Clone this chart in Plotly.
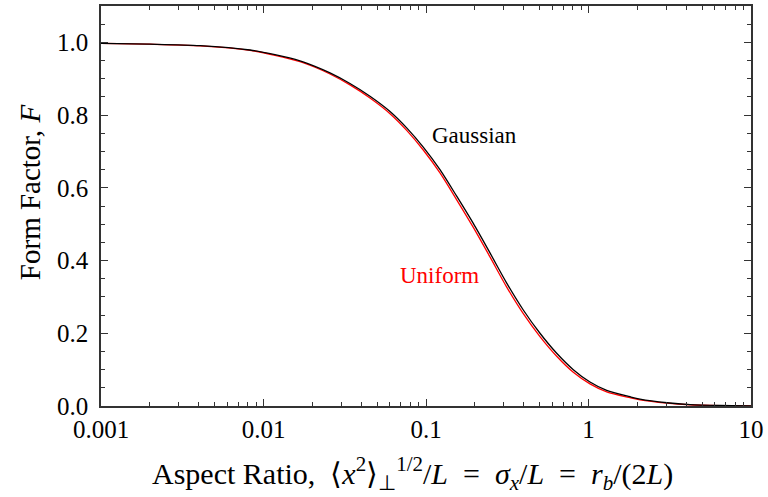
import plotly.graph_objects as go

# Aspect ratio (x) values and form factor readings
x_vals = [0.001, 0.002, 0.00407, 0.00826, 0.01177, 0.01677, 0.02074, 0.02566, 0.03405, 0.04521,
          0.06005, 0.07606, 0.0962, 0.1219, 0.1545, 0.1955, 0.2476, 0.3138, 0.3970, 0.5028,
          0.6372, 0.8063, 1.021, 1.294, 1.800, 2.075, 3.042, 4.213, 6.445, 10.0]
f_gauss = [0.997, 0.995, 0.991, 0.979, 0.966, 0.949, 0.934, 0.916, 0.887, 0.852,
           0.810, 0.765, 0.712, 0.650, 0.577, 0.502, 0.421, 0.338, 0.264, 0.200,
           0.145, 0.100, 0.066, 0.043, 0.0255, 0.019, 0.009, 0.004, 0.0015, 0.0005]
f_unif = [0.997, 0.995, 0.9905, 0.978, 0.9645, 0.947, 0.9315, 0.913, 0.883, 0.847,
          0.804, 0.758, 0.704, 0.641, 0.567, 0.491, 0.410, 0.327, 0.254, 0.191,
          0.137, 0.093, 0.061, 0.039, 0.023, 0.017, 0.008, 0.0035, 0.0013, 0.0005]

xtick_vals = [0.001, 0.01, 0.1, 1, 10]
xtick_text = ["0.001", "0.01", "0.1", "1", "10"]
x_minor = [m * 10.0 ** e for e in range(-3, 1) for m in range(2, 10)]

FONT = "Liberation Serif"

fig = go.Figure()
fig.add_trace(go.Scatter(x=x_vals, y=f_unif, mode="lines",
                         line=dict(color="red", width=1.3, shape="spline", smoothing=0.8),
                         name="Uniform"))
fig.add_trace(go.Scatter(x=x_vals, y=f_gauss, mode="lines",
                         line=dict(color="black", width=1.3, shape="spline", smoothing=0.8),
                         name="Gaussian"))

fig.add_annotation(x=-0.70, y=0.745, xref="x", yref="y", text="Gaussian", showarrow=False,
                   font=dict(family=FONT, size=23, color="black"))
fig.add_annotation(x=-0.92, y=0.36, xref="x", yref="y", text="Uniform", showarrow=False,
                   font=dict(family=FONT, size=23, color="red"))
# y-axis title placed as a rotated annotation
fig.add_annotation(x=-0.109, y=0.535, xref="paper", yref="paper", text="Form Factor, <i>F</i>",
                   textangle=-90, showarrow=False, xanchor="center", yanchor="middle",
                   font=dict(family=FONT, size=29, color="black"))

sp = "\u2002"
xtitle = ("Aspect Ratio," + sp + "⟨<i>x</i><sup>2</sup>⟩<sub>⊥</sub><sup>1/2</sup>/<i>L</i>" + sp + "=" + sp +
          "<i>σ<sub>x</sub></i>/<i>L</i>" + sp + "=" + sp + "<i>r<sub>b</sub></i>/(2<i>L</i>)")
# x-axis title as an annotation below the plot
fig.add_annotation(x=0.4785, y=-0.168, xref="paper", yref="paper", text=xtitle,
                   showarrow=False, xanchor="center", yanchor="middle",
                   font=dict(family=FONT, size=30, color="black"))

axis_common = dict(showline=True, linecolor="#333", linewidth=1.5, mirror="ticks", ticks="inside",
                   tickcolor="#333", showgrid=False, zeroline=False,
                   tickfont=dict(family=FONT, size=25, color="black"))

fig.update_xaxes(type="log", range=[-3, 1], tickvals=xtick_vals, ticktext=xtick_text, ticklen=7,
                 minor=dict(ticks="inside", ticklen=4, tickvals=x_minor, tickcolor="#333", showgrid=False),
                 **axis_common)
fig.update_yaxes(range=[0, 1.1], tick0=0, dtick=0.2, tickformat=".1f", ticklen=7, ticklabelstandoff=6,
                 minor=dict(ticks="inside", ticklen=4, dtick=0.05, tickcolor="#333", showgrid=False),
                 **axis_common)

fig.update_layout(width=768, height=497, margin=dict(l=101, r=15, t=4, b=91),
                  plot_bgcolor="white", paper_bgcolor="white", showlegend=False)

fig.write_html("out.html")
